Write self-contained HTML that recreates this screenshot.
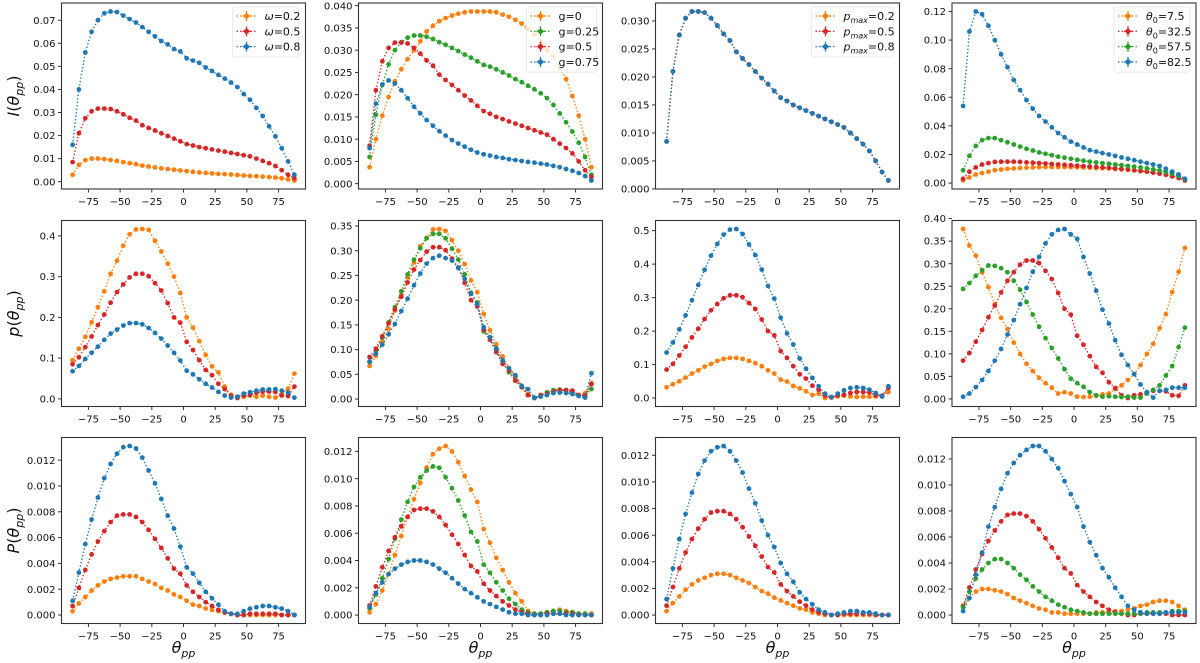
<!DOCTYPE html>
<html><head><meta charset="utf-8">
<style>
html,body{margin:0;padding:0;background:#fff;}
svg{display:block;font-family:"DejaVu Sans","Liberation Sans",sans-serif;}
</style></head>
<body>
<svg id="fig" width="1200" height="663" viewBox="0 0 1200 663" xmlns="http://www.w3.org/2000/svg"></svg>
<script>
// ---- data ----
const thetaPP = [-87.5,-82.5,-77.5,-72.5,-67.5,-62.5,-57.5,-52.5,-47.5,-42.5,-37.5,-32.5,-27.5,-22.5,-17.5,-12.5,-7.5,-2.5,2.5,7.5,12.5,17.5,22.5,27.5,32.5,37.5,42.5,47.5,52.5,57.5,62.5,67.5,72.5,77.5,82.5,87.5];
const xTickLabels = ["−75","−50","−25","0","25","50","75"];
const xTickValues = [-75,-50,-25,0,25,50,75];

// Row 1: I(theta_pp)
const I_red = [0.0085,0.021,0.0275,0.0305,0.0317,0.0317,0.0315,0.0305,0.0292,0.0277,0.0265,0.0245,0.0233,0.0222,0.021,0.0198,0.0187,0.0175,0.0163,0.0157,0.0150,0.0145,0.0140,0.0135,0.0130,0.0125,0.0120,0.0115,0.0110,0.0100,0.0090,0.0080,0.0068,0.0050,0.0030,0.0015];
const I_w02 = [0.003,0.0073,0.0093,0.0100,0.0100,0.0098,0.0094,0.0090,0.0085,0.0080,0.0076,0.0070,0.0066,0.0062,0.0058,0.0055,0.0052,0.0049,0.0046,0.0043,0.0040,0.0038,0.0036,0.0034,0.0033,0.0031,0.0029,0.0027,0.0025,0.0024,0.0022,0.0020,0.0018,0.0015,0.0010,0.0005];
const I_w08 = [0.016,0.040,0.056,0.065,0.070,0.073,0.0738,0.0735,0.072,0.0705,0.069,0.067,0.065,0.063,0.061,0.0595,0.0575,0.0565,0.0535,0.0525,0.0515,0.0495,0.048,0.0463,0.0447,0.043,0.041,0.038,0.0355,0.032,0.0285,0.024,0.0197,0.0145,0.0088,0.003];
const I_g0 = [0.0037,0.010,0.0153,0.0195,0.023,0.0257,0.028,0.030,0.032,0.0342,0.0355,0.0365,0.0372,0.0378,0.0382,0.0385,0.0387,0.0387,0.0387,0.0387,0.0385,0.038,0.0375,0.0368,0.036,0.0348,0.0335,0.032,0.030,0.0285,0.026,0.0235,0.0197,0.0153,0.0100,0.0037];
const I_g025 = [0.006,0.0155,0.0222,0.0268,0.030,0.0318,0.0328,0.0333,0.0333,0.033,0.0325,0.0318,0.0312,0.0305,0.0298,0.029,0.0283,0.0275,0.0267,0.0263,0.0257,0.025,0.0243,0.0235,0.0228,0.022,0.0212,0.0203,0.0192,0.0177,0.0158,0.0138,0.0117,0.0092,0.006,0.002];
const I_g075 = [0.008,0.018,0.0223,0.0232,0.0225,0.021,0.0192,0.0173,0.0158,0.0143,0.013,0.0118,0.0108,0.0098,0.0090,0.0083,0.0076,0.0070,0.0066,0.0063,0.0060,0.0058,0.0055,0.0053,0.0051,0.0049,0.0047,0.0045,0.0043,0.0040,0.0037,0.0033,0.0029,0.0024,0.0017,0.0007];
const I_t82 = [0.054,0.106,0.120,0.118,0.110,0.100,0.090,0.081,0.072,0.065,0.058,0.052,0.047,0.043,0.039,0.035,0.032,0.029,0.027,0.025,0.023,0.022,0.021,0.020,0.019,0.018,0.017,0.016,0.015,0.014,0.013,0.012,0.010,0.008,0.006,0.003];
const I_t57 = [0.009,0.019,0.026,0.030,0.0315,0.0315,0.030,0.0285,0.027,0.0255,0.024,0.0228,0.0215,0.0205,0.0195,0.0185,0.0178,0.017,0.0163,0.0157,0.0150,0.0145,0.0140,0.0135,0.0130,0.0125,0.0120,0.0115,0.0110,0.0103,0.0096,0.0088,0.0078,0.0065,0.0048,0.0025];
const I_t32 = [0.003,0.008,0.011,0.013,0.014,0.0148,0.015,0.015,0.015,0.0148,0.0145,0.0143,0.014,0.0137,0.0134,0.0131,0.0128,0.0125,0.0122,0.0119,0.0116,0.0113,0.011,0.0107,0.0103,0.0099,0.0095,0.009,0.0085,0.008,0.0073,0.0066,0.0058,0.0048,0.0035,0.0018];
const I_t7 = [0.002,0.004,0.006,0.007,0.008,0.009,0.0095,0.010,0.0103,0.0106,0.0108,0.011,0.0111,0.0112,0.0112,0.0112,0.0112,0.0111,0.011,0.0109,0.0108,0.0106,0.0104,0.0102,0.0099,0.0096,0.0093,0.0089,0.0085,0.008,0.0074,0.0067,0.0059,0.0049,0.0037,0.002];

// Row 2: p(theta_pp)
const p_red = [0.085,0.102,0.127,0.153,0.181,0.207,0.236,0.262,0.281,0.298,0.307,0.307,0.301,0.284,0.266,0.235,0.200,0.187,0.140,0.120,0.095,0.071,0.058,0.037,0.024,0.008,0.002,0.008,0.010,0.015,0.018,0.018,0.017,0.008,0.007,0.030];
const p_w02 = [0.095,0.123,0.152,0.188,0.225,0.264,0.307,0.339,0.376,0.404,0.416,0.417,0.415,0.388,0.362,0.332,0.300,0.260,0.200,0.175,0.142,0.108,0.080,0.065,0.030,0.010,0.005,0.005,0.008,0.005,0.008,0.005,0.003,0.010,0.025,0.062];
const p_w08 = [0.068,0.081,0.098,0.113,0.128,0.145,0.160,0.170,0.180,0.186,0.186,0.183,0.174,0.162,0.148,0.131,0.113,0.094,0.069,0.060,0.048,0.037,0.028,0.017,0.008,0.003,0.005,0.013,0.016,0.020,0.023,0.023,0.024,0.020,0.015,0.003];
const p_g0 = [0.067,0.087,0.115,0.142,0.179,0.210,0.246,0.276,0.309,0.326,0.343,0.344,0.340,0.321,0.300,0.273,0.240,0.216,0.172,0.139,0.111,0.086,0.063,0.046,0.027,0.010,0.002,0.006,0.014,0.016,0.018,0.015,0.013,0.008,0.012,0.032];
const p_g025 = [0.075,0.098,0.124,0.155,0.186,0.218,0.252,0.282,0.305,0.325,0.334,0.334,0.325,0.304,0.282,0.252,0.215,0.195,0.137,0.120,0.098,0.076,0.054,0.037,0.025,0.008,0.002,0.008,0.013,0.018,0.019,0.018,0.013,0.007,0.008,0.020];
const p_g075 = [0.076,0.092,0.110,0.131,0.152,0.178,0.203,0.230,0.254,0.274,0.285,0.290,0.285,0.280,0.265,0.243,0.213,0.192,0.145,0.125,0.102,0.078,0.062,0.048,0.026,0.020,0.003,0.005,0.008,0.012,0.013,0.012,0.010,0.006,0.003,0.052];
const p_pm08 = [0.136,0.166,0.205,0.247,0.292,0.338,0.383,0.425,0.460,0.488,0.503,0.505,0.490,0.459,0.427,0.384,0.335,0.297,0.240,0.193,0.160,0.118,0.088,0.060,0.035,0.013,0.003,0.013,0.023,0.030,0.032,0.030,0.025,0.015,0.005,0.035];
const p_pm02 = [0.032,0.041,0.050,0.061,0.073,0.083,0.094,0.102,0.111,0.117,0.120,0.120,0.117,0.111,0.104,0.095,0.083,0.073,0.055,0.049,0.036,0.029,0.020,0.009,0.013,0.000,0.002,0.005,0.007,0.005,0.003,0.004,0.004,0.005,0.005,0.018];
const p_t7 = [0.377,0.340,0.318,0.281,0.248,0.210,0.180,0.155,0.125,0.100,0.078,0.062,0.047,0.035,0.025,0.012,0.015,0.012,0.005,0.004,0.005,0.007,0.010,0.012,0.022,0.030,0.042,0.055,0.075,0.100,0.122,0.157,0.188,0.237,0.282,0.335];
const p_t57 = [0.244,0.257,0.273,0.285,0.296,0.295,0.290,0.281,0.262,0.242,0.215,0.187,0.160,0.135,0.113,0.090,0.066,0.045,0.035,0.027,0.015,0.008,0.005,0.006,0.005,0.004,0.005,0.003,0.003,0.012,0.020,0.030,0.052,0.073,0.115,0.158];
const p_t82 = [0.005,0.012,0.026,0.042,0.062,0.085,0.111,0.143,0.175,0.210,0.246,0.282,0.315,0.345,0.365,0.375,0.377,0.365,0.355,0.315,0.278,0.240,0.198,0.167,0.130,0.098,0.075,0.055,0.032,0.015,0.003,0.018,0.020,0.025,0.025,0.025];

// Row 3: P(theta_pp)
const P_red = [0.0007,0.0021,0.0035,0.0047,0.0057,0.0065,0.0072,0.0077,0.0078,0.0078,0.0076,0.0072,0.0066,0.0059,0.0052,0.0044,0.0036,0.0032,0.0023,0.0018,0.0014,0.0010,0.0007,0.0004,0.0002,0.0001,0.0000,0.0000,0.0001,0.0001,0.0001,0.0001,0.0001,0.0000,0.0000,0.0000];
const P_w08 = [0.0011,0.0033,0.0055,0.0074,0.0091,0.0106,0.0117,0.0125,0.0130,0.0131,0.0129,0.0122,0.0112,0.0102,0.0090,0.0077,0.0067,0.0053,0.0037,0.0032,0.0025,0.0018,0.0013,0.0008,0.0003,0.0001,0.0001,0.0003,0.0005,0.0006,0.0007,0.0007,0.0006,0.0005,0.0003,0.0000];
const P_w02 = [0.0003,0.0009,0.0014,0.0019,0.0023,0.0026,0.0028,0.0029,0.0030,0.0030,0.0030,0.0028,0.0026,0.0024,0.0021,0.0019,0.0016,0.0014,0.0011,0.0008,0.0007,0.0005,0.0004,0.0003,0.0002,0.0001,0.0000,0.0000,0.0000,0.0000,0.0000,0.0000,0.0000,0.0000,0.0000,0.0000];
const P_g0 = [0.0002,0.0008,0.0018,0.0030,0.0044,0.0058,0.0072,0.0085,0.0097,0.0108,0.0118,0.0122,0.0124,0.0120,0.0112,0.0102,0.0092,0.0083,0.0063,0.0053,0.0042,0.0033,0.0024,0.0016,0.0010,0.0003,0.0001,0.0001,0.0002,0.0003,0.0004,0.0003,0.0002,0.0001,0.0001,0.0001];
const P_g025 = [0.0005,0.0015,0.0027,0.0041,0.0056,0.0070,0.0083,0.0094,0.0101,0.0106,0.0109,0.0108,0.0101,0.0093,0.0084,0.0073,0.0061,0.0054,0.0037,0.0031,0.0024,0.0018,0.0012,0.0008,0.0004,0.0002,0.0001,0.0001,0.0002,0.0003,0.0003,0.0002,0.0002,0.0001,0.0001,0.0000];
const P_g075 = [0.0006,0.0016,0.0024,0.0030,0.0034,0.0037,0.0039,0.0040,0.0040,0.0039,0.0037,0.0034,0.0031,0.0027,0.0023,0.0019,0.0016,0.0013,0.0010,0.0008,0.0006,0.0004,0.0002,0.0001,0.0001,0.0000,0.0000,0.0000,0.0000,0.0001,0.0001,0.0000,0.0000,0.0000,0.0000,0.0000];
const P_pm08 = [0.0012,0.0035,0.0057,0.0076,0.0092,0.0106,0.0116,0.0123,0.0126,0.0127,0.0123,0.0116,0.0107,0.0095,0.0084,0.0071,0.0060,0.0051,0.0039,0.0031,0.0025,0.0017,0.0012,0.0008,0.0004,0.0002,0.0000,0.0001,0.0002,0.0003,0.0003,0.0002,0.0002,0.0001,0.0000,0.0000];
const P_pm02 = [0.0003,0.0009,0.0014,0.0019,0.0023,0.0026,0.0028,0.0030,0.0031,0.0031,0.0030,0.0028,0.0026,0.0024,0.0021,0.0018,0.0016,0.0013,0.0011,0.0009,0.0007,0.0005,0.0004,0.0002,0.0001,0.0000,0.0000,0.0000,0.0000,0.0000,0.0000,0.0000,0.0000,0.0000,0.0000,0.0000];
const P_t82 = [0.0003,0.0013,0.0031,0.0048,0.0068,0.0083,0.0097,0.0109,0.0117,0.0123,0.0127,0.0130,0.0130,0.0126,0.0120,0.0113,0.0103,0.0093,0.0083,0.0068,0.0056,0.0046,0.0036,0.0029,0.0021,0.0014,0.0007,0.0004,0.0002,0.0001,0.0001,0.0001,0.0002,0.0002,0.0002,0.0002];
const P_t57 = [0.0006,0.0018,0.0028,0.0035,0.0040,0.0043,0.0043,0.0040,0.0036,0.0031,0.0027,0.0022,0.0018,0.0014,0.0011,0.0008,0.0006,0.0004,0.0003,0.0002,0.0001,0.0001,0.0001,0.0001,0.0001,0.0001,0.0001,0.0001,0.0001,0.0002,0.0002,0.0002,0.0002,0.0003,0.0003,0.0003];
const P_t7 = [0.0007,0.0013,0.0018,0.0020,0.0020,0.0019,0.0018,0.0016,0.0013,0.0011,0.0009,0.0007,0.0005,0.0004,0.0002,0.0002,0.0001,0.0001,0.0001,0.0001,0.0001,0.0002,0.0002,0.0002,0.0003,0.0003,0.0004,0.0005,0.0007,0.0008,0.0010,0.0011,0.0011,0.0010,0.0007,0.0004];

// y tick labels per panel
const yT_I1 = ["0.00","0.01","0.02","0.03","0.04","0.05","0.06","0.07"];
const yT_I2 = ["0.000","0.005","0.010","0.015","0.020","0.025","0.030","0.035","0.040"];
const yT_I3 = ["0.000","0.005","0.010","0.015","0.020","0.025","0.030"];
const yT_I4 = ["0.00","0.02","0.04","0.06","0.08","0.10","0.12"];
const yT_p1 = ["0.0","0.1","0.2","0.3","0.4"];
const yT_p2 = ["0.00","0.05","0.10","0.15","0.20","0.25","0.30","0.35"];
const yT_p3 = ["0.0","0.1","0.2","0.3","0.4","0.5"];
const yT_p4 = ["0.00","0.05","0.10","0.15","0.20","0.25","0.30","0.35","0.40"];
const yT_P = ["0.000","0.002","0.004","0.006","0.008","0.010","0.012"];

// legend labels
const legW = ["ω=0.2","ω=0.5","ω=0.8"];
const legG = ["g=0","g=0.25","g=0.5","g=0.75"];
const legPm = ["0.2","0.5","0.8"];
const legT = ["7.5","32.5","57.5","82.5"];

const C = {o:"#ff7f0e", r:"#d62728", g:"#2ca02c", b:"#1f77b4"};
const NS = "http://www.w3.org/2000/svg";
const svg = document.getElementById('fig');
function mk(tag, attrs, parent){ const e=document.createElementNS(NS,tag); for(const k in attrs) e.setAttribute(k,attrs[k]); (parent||svg).appendChild(e); return e; }

const colLeft = [61.5, 358.5, 655.5, 952];
const rowTop = [3, 220.5, 437.5];
const PW = 244, PH = 186;
const legOff = [69, 72, 84, 78];
const legBoxW = [66, 70, 82, 76];

const panels = [
 {r:0,c:0,yt:yT_I1,series:[[I_w02,C.o],[I_red,C.r],[I_w08,C.b]],leg:"w"},
 {r:0,c:1,yt:yT_I2,series:[[I_g0,C.o],[I_g025,C.g],[I_red,C.r],[I_g075,C.b]],leg:"g"},
 {r:0,c:2,yt:yT_I3,series:[[I_red,C.o],[I_red,C.r],[I_red,C.b]],leg:"pm"},
 {r:0,c:3,yt:yT_I4,series:[[I_t7,C.o],[I_t32,C.r],[I_t57,C.g],[I_t82,C.b]],leg:"t"},
 {r:1,c:0,yt:yT_p1,series:[[p_w02,C.o],[p_red,C.r],[p_w08,C.b]]},
 {r:1,c:1,yt:yT_p2,series:[[p_g0,C.o],[p_g025,C.g],[p_red,C.r],[p_g075,C.b]]},
 {r:1,c:2,yt:yT_p3,series:[[p_pm02,C.o],[p_red,C.r],[p_pm08,C.b]]},
 {r:1,c:3,yt:yT_p4,series:[[p_t7,C.o],[p_red,C.r],[p_t57,C.g],[p_t82,C.b]]},
 {r:2,c:0,yt:yT_P,series:[[P_w02,C.o],[P_red,C.r],[P_w08,C.b]]},
 {r:2,c:1,yt:yT_P,series:[[P_g0,C.o],[P_g025,C.g],[P_red,C.r],[P_g075,C.b]]},
 {r:2,c:2,yt:yT_P,series:[[P_pm02,C.o],[P_red,C.r],[P_pm08,C.b]]},
 {r:2,c:3,yt:yT_P,series:[[P_t7,C.o],[P_red,C.r],[P_t57,C.g],[P_t82,C.b]]}
];

panels.forEach((p,pi)=>{
  const L=colLeft[p.c], T=rowTop[p.r];
  const g = mk('g',{});
  
  
  const xmin=Math.min(...thetaPP), xmax=Math.max(...thetaPP), xm=(xmax-xmin)*0.05;
  const sx = v => L + (v-(xmin-xm))/((xmax+xm)-(xmin-xm))*PW;
  let ymin=Infinity,ymax=-Infinity;
  p.series.forEach(s=>{ymin=Math.min(ymin,...s[0]);ymax=Math.max(ymax,...s[0]);});
  const ym=(ymax-ymin)*0.05;
  const y0=ymin-ym, y1=ymax+ym;
  const sy = v => T+PH - (v-y0)/(y1-y0)*PH;
  const cid='clip'+pi;
  const cp=mk('clipPath',{id:cid},g); mk('rect',{x:L,y:T,width:PW,height:PH},cp);
  p.series.forEach((s,si)=>{
    const sg=mk('g',{'clip-path':'url(#'+cid+')'},g);
    
    
    const pts=s[0].map((v,i)=>sx(thetaPP[i]).toFixed(1)+','+sy(v).toFixed(1)).join(' ');
    const pl=mk('polyline',{points:pts,fill:'none',stroke:s[1],'stroke-width':1.4,'stroke-dasharray':'1.4 2.1'},sg);
    
    
    s[0].forEach((v,i)=>{
      const c=mk('circle',{cx:sx(thetaPP[i]).toFixed(1),cy:sy(v).toFixed(1),r:2.4,fill:s[1]},sg);
      
      
    });
  });
  const fr=mk('rect',{x:L,y:T,width:PW,height:PH,fill:'none',stroke:'#333','stroke-width':1.1},g);
  
  
  xTickValues.forEach((v,i)=>{
    const x=sx(v);
    mk('line',{x1:x,y1:T+PH,x2:x,y2:T+PH+3.5,stroke:'#333','stroke-width':1},g);
    const t=mk('text',{x:x,y:T+PH+16,'text-anchor':'middle','font-size':10,fill:'#111'},g);
    t.textContent=xTickLabels[i];
    
    
  });
  p.yt.forEach(lbl=>{
    const v=parseFloat(lbl); const y=sy(v);
    mk('line',{x1:L-3.5,y1:y,x2:L,y2:y,stroke:'#333','stroke-width':1},g);
    const t=mk('text',{x:L-6,y:y+3.6,'text-anchor':'end','font-size':10,fill:'#111'},g);
    t.textContent=lbl;
    
    
  });
  if(p.leg){
    const lg=mk('g',{},g);
    
    
    const hx=L+PW-legOff[p.c];
    const cols=p.series.map(s=>s[1]);
    const n=cols.length;
    mk('rect',{x:hx-4,y:T+4,width:legBoxW[p.c],height:n*15.3+4,rx:2,fill:'#fff','fill-opacity':0.8,stroke:'#e6e6e6','stroke-width':0.8},lg);
    cols.forEach((col,i)=>{
      const y=T+13+i*15.3;
      const e=mk('g',{},lg);
      
      
      mk('line',{x1:hx,y1:y,x2:hx+20,y2:y,stroke:col,'stroke-width':1.4,'stroke-dasharray':'1.4 2.1'},e);
      mk('line',{x1:hx+10,y1:y-5,x2:hx+10,y2:y+5,stroke:col,'stroke-width':1.3},e);
      mk('line',{x1:hx+6,y1:y,x2:hx+14,y2:y,stroke:col,'stroke-width':1.3},e);
      mk('circle',{cx:hx+10,cy:y,r:2.6,fill:col},e);
      const t=mk('text',{x:hx+28,y:y+4,'font-size':11,fill:'#111'},e);
      if(p.leg==='w'){ const a=mk('tspan',{'font-style':'italic'},t); a.textContent='ω'; const b=mk('tspan',{},t); b.textContent=legW[i].slice(1); }
      else if(p.leg==='g'){ t.textContent=legG[i]; }
      else if(p.leg==='pm'){ const a=mk('tspan',{'font-style':'italic'},t); a.textContent='p'; const s=mk('tspan',{'font-style':'italic','font-size':8,dy:3},t); s.textContent='max'; const b=mk('tspan',{dy:-3},t); b.textContent='='+legPm[i]; }
      else { const a=mk('tspan',{'font-style':'italic'},t); a.textContent='θ'; const s=mk('tspan',{'font-size':8,dy:3},t); s.textContent='0'; const b=mk('tspan',{dy:-3},t); b.textContent='='+legT[i]; }
    });
  }
});

const yTitles=[["I","0"],["p","1"],["P","2"]];
yTitles.forEach(([ch,ri])=>{
  const cy=rowTop[+ri]+PH/2;
  const t=mk('text',{x:0,y:0,transform:'translate(19,'+cy+') rotate(-90)','text-anchor':'middle','font-size':16,fill:'#111'});
  
  
  const a=mk('tspan',{'font-style':'italic'},t); a.textContent=ch;
  const b=mk('tspan',{},t); b.textContent='(';
  const c=mk('tspan',{'font-style':'italic'},t); c.textContent='θ';
  const d=mk('tspan',{'font-style':'italic','font-size':11,dy:4},t); d.textContent='pp';
  const e=mk('tspan',{dy:-4},t); e.textContent=')';
});
colLeft.forEach(L=>{
  const t=mk('text',{x:L+PW/2,y:653,'text-anchor':'middle','font-size':16,fill:'#111'});
  
  
  const a=mk('tspan',{'font-style':'italic'},t); a.textContent='θ';
  const b=mk('tspan',{'font-style':'italic','font-size':11,dy:4},t); b.textContent='pp';
});
</script>
</body></html>
